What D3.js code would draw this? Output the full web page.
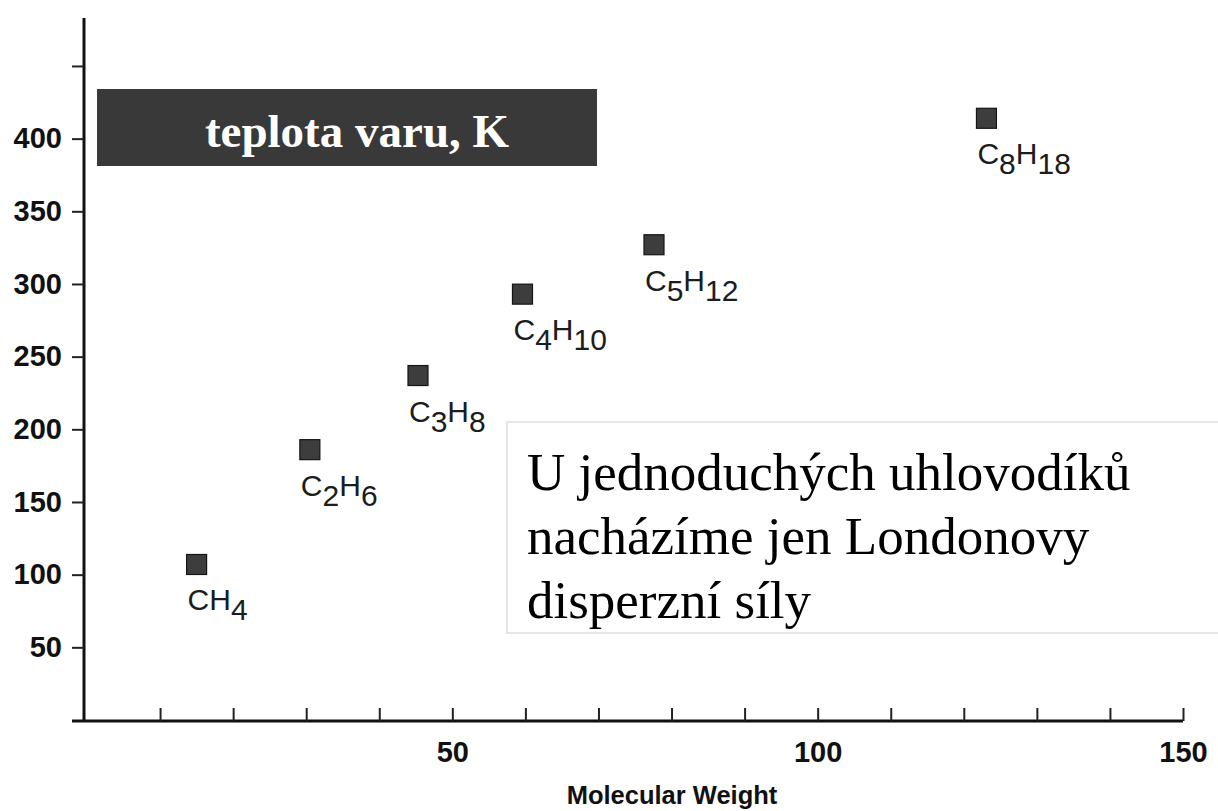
<!DOCTYPE html>
<html>
<head>
<meta charset="utf-8">
<script src="https://cdn.jsdelivr.net/npm/d3@7"></script>
<style>
body{margin:0;background:#fff;}
svg{display:block;}
</style>
</head>
<body>
<svg id="svg" width="1218" height="811"></svg>
<script>
// alkanes: molecular weight vs boiling point (K)
var formulas=['CH4','C2H6','C3H8','C4H10','C5H12','C8H18'];
var molWeight=[15.0,30.5,45.3,59.6,77.6,123.1];
var boilPoint=[107,186,237,293,327,414];

var xTickValues=[10,20,30,40,50,60,70,80,90,100,110,120,130,140,150];
var xTickLabels=[50,100,150];
var yTickValues=[50,100,150,200,250,300,350,400,450];
var yTickLabels=[50,100,150,200,250,300,350,400];

var titleText='teplota varu, K';
var noteLines=['U jednoduchých uhlovodíků','nacházíme jen Londonovy','disperzní síly'];

var svg=d3.select('#svg');
var sans='"Liberation Sans", Arial, sans-serif';
var serif='"Liberation Serif", "Times New Roman", serif';

var x=d3.scaleLinear().domain([0,150]).range([87,1183]);
var y=d3.scaleLinear().domain([0,483]).range([720,18]);

// y axis
var yaxis=svg.append('g')
	.attr('transform','translate(84,0)')
	.call(d3.axisLeft(y)
		.tickValues(yTickValues)
		.tickSize(12)
		.tickSizeOuter(0)
		.tickPadding(10)
		.tickFormat(function(d){return yTickLabels.indexOf(d)>=0?d:'';}));
yaxis.select('.domain').attr('d','M0,'+y(0)+'V'+y(483)).attr('stroke','#111').attr('stroke-width',3);
yaxis.selectAll('.tick line').attr('stroke','#222').attr('stroke-width',2);
yaxis.selectAll('.tick text')
	.attr('font-family',sans).attr('font-size',29).attr('font-weight','bold').attr('fill','#111');

// x axis, ticks point inward
var xaxis=svg.append('g')
	.attr('transform','translate(0,721)')
	.call(d3.axisBottom(x)
		.tickValues(xTickValues)
		.tickSize(-13)
		.tickSizeOuter(0)
		.tickPadding(20)
		.tickFormat(function(d){return xTickLabels.indexOf(d)>=0?d:'';}));
xaxis.select('.domain').attr('d','M72,0H'+x(150)).attr('stroke','#111').attr('stroke-width',3);
xaxis.selectAll('.tick line').attr('stroke','#222').attr('stroke-width',2);
xaxis.selectAll('.tick text')
	.attr('font-family',sans).attr('font-size',29).attr('font-weight','bold').attr('fill','#111');

svg.append('text')
	.attr('x',672).attr('y',804)
	.attr('text-anchor','middle')
	.attr('font-family',sans).attr('font-size',25.5).attr('font-weight','bold').attr('fill','#111')
	.text('Molecular Weight');

// points
var pts=formulas.map(function(f,i){return {f:f,mw:molWeight[i],bp:boilPoint[i]};});
var size=20;

svg.selectAll('rect.pt').data(pts).enter()
	.append('rect').attr('class','pt')
	.attr('x',function(d){return x(d.mw)-size/2;})
	.attr('y',function(d){return y(d.bp)-size/2;})
	.attr('width',size).attr('height',size)
	.attr('fill','#3d3d3d').attr('stroke','#151515').attr('stroke-width',1.2);

var labels=svg.selectAll('text.lbl').data(pts).enter()
	.append('text').attr('class','lbl')
	.attr('x',function(d){return x(d.mw)-size/2+1;})
	.attr('y',function(d){return y(d.bp)+46;})
	.attr('font-family',sans).attr('font-size',30).attr('fill','#1c1c1c');

labels.each(function(d){
	var t=d3.select(this);
	var parts=d.f.match(/[A-Z]|\d+/g);
	var low=false;
	parts.forEach(function(p){
		var isNum=/\d/.test(p);
		var sp=t.append('tspan').text(p);
		if(isNum&&!low){sp.attr('dy',10);low=true;}
		else if(!isNum&&low){sp.attr('dy',-10);low=false;}
	});
});

// title box
svg.append('rect')
	.attr('x',97).attr('y',89).attr('width',500).attr('height',77)
	.attr('fill','#393939');
svg.append('text')
	.attr('x',357).attr('y',147)
	.attr('text-anchor','middle')
	.attr('font-family',serif).attr('font-size',47).attr('font-weight','bold').attr('fill','#fff')
	.text(titleText);

// note box
svg.append('rect')
	.attr('x',507).attr('y',422).attr('width',730).attr('height',211)
	.attr('fill','#fff').attr('stroke','#d6d6d6').attr('stroke-width',1.2);
svg.append('g').selectAll('text').data(noteLines).enter()
	.append('text')
	.attr('x',527)
	.attr('y',function(d,i){return 490+i*64;})
	.attr('font-family',serif).attr('font-size',53).attr('fill','#000')
	.text(function(d){return d;});
</script>
</body>
</html>
